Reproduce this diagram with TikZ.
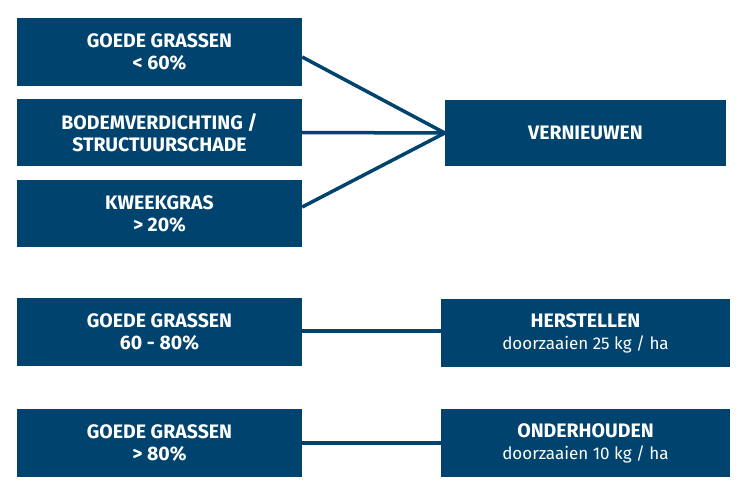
\documentclass[tikz,border=0pt]{standalone}
\usepackage{fontspec}
\setmainfont{Fira Sans}
\definecolor{navy}{RGB}{0,67,110}
\newcommand{\hd}{\fontsize{19.5}{22}\selectfont\bfseries}
\newcommand{\sub}{\fontsize{17}{22}\selectfont}
\tikzset{
  box/.style={fill=navy, text=white, inner sep=0pt, align=center, font=\fontsize{19.5}{22}\selectfont},
  link/.style={draw=navy, line width=3.5pt},
}
\begin{document}
\begin{tikzpicture}[x=1pt,y=-1pt]
\useasboundingbox (0,0) rectangle (755,497);
\node[box, minimum width=285pt, minimum height=68pt] (b1) at (159.5,52) {\hd GOEDE GRASSEN\\\hd < 60\%};
\node[box, minimum width=285pt, minimum height=67pt] (b2) at (159.5,132.5) {\hd BODEMVERDICHTING /\\\hd STRUCTUURSCHADE};
\node[box, minimum width=285pt, minimum height=67pt] (b3) at (159.5,213.5) {\hd KWEEKGRAS\\\hd > 20\%};
\node[box, minimum width=285pt, minimum height=68pt] (b4) at (159.5,332) {\hd GOEDE GRASSEN\\\hd 60 - 80\%};
\node[box, minimum width=285pt, minimum height=68pt] (b5) at (159.5,443) {\hd GOEDE GRASSEN\\\hd > 80\%};
\node[box, minimum width=281pt, minimum height=66pt] (v) at (585.5,133) {\hd VERNIEUWEN};
\node[box, minimum width=289pt, minimum height=68pt] (h) at (585.5,333) {\hd HERSTELLEN\\\sub doorzaaien 25 kg / ha};
\node[box, minimum width=289pt, minimum height=68pt] (o) at (585.5,443) {\hd ONDERHOUDEN\\\sub doorzaaien 10 kg / ha};
\draw[link] ([yshift=-5pt]b1.east) -- (v.west);
\draw[link] (b2.east) -- (v.west);
\draw[link] ([yshift=6.5pt]b3.east) -- (v.west);
\draw[link] ([yshift=1pt]b4.east) -- ([yshift=2pt]h.west);
\draw[link] (b5.east) -- (o.west);
\end{tikzpicture}
\end{document}
